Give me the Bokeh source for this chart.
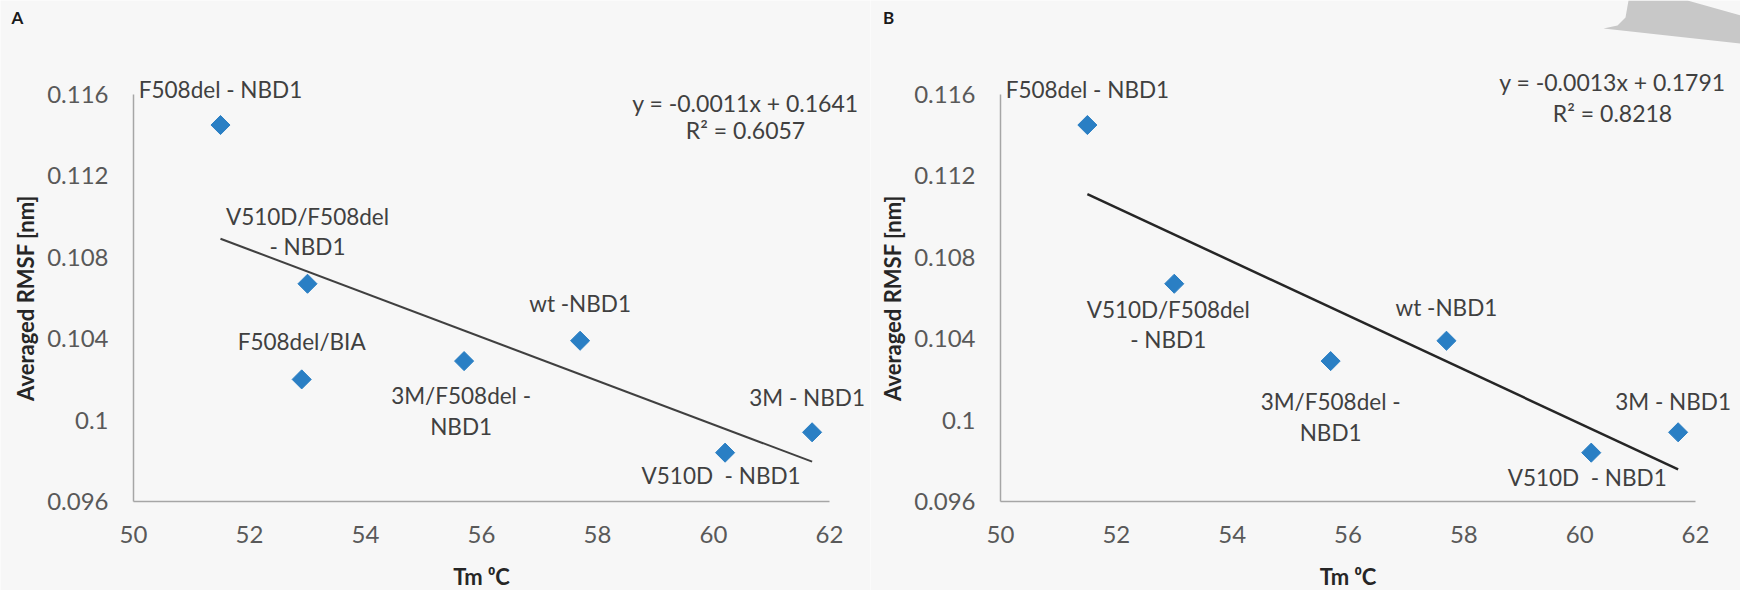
import numpy as np
from bokeh.plotting import figure
from bokeh.models import ColumnDataSource, Label, Range1d, FixedTicker, PolyAnnotation
from bokeh.layouts import row
from bokeh.embed import file_html
from bokeh.resources import INLINE
from bokeh.core.properties import value

# ---------------- data ----------------
names_a = ["F508del - NBD1", "V510D/F508del\n- NBD1", "F508del/BIA", "3M/F508del -\nNBD1",
           "wt -NBD1", "V510D\u00a0 - NBD1", "3M - NBD1"]
tm_a = [51.5, 53.0, 52.9, 55.7, 57.7, 60.2, 61.7]
rmsf_a = [0.1145, 0.1067, 0.1020, 0.1029, 0.1039, 0.0984, 0.0994]

names_b = ["F508del - NBD1", "V510D/F508del\n- NBD1", "3M/F508del -\nNBD1",
           "wt -NBD1", "V510D\u00a0 - NBD1", "3M - NBD1"]
tm_b = [51.5, 53.0, 55.7, 57.7, 60.2, 61.7]
rmsf_b = [0.1145, 0.1067, 0.1029, 0.1039, 0.0984, 0.0994]

eq_a = ["y = -0.0011x + 0.1641", "R\u00b2 = 0.6057"]
eq_b = ["y = -0.0013x + 0.1791", "R\u00b2 = 0.8218"]

x_ticks = [50, 52, 54, 56, 58, 60, 62]
y_ticks = [0.096, 0.1, 0.104, 0.108, 0.112, 0.116]
y_tick_labels = ["0.096", "0.1", "0.104", "0.108", "0.112", "0.116"]
x_min, x_max = 50, 62
y_min, y_max = 0.096, 0.116

panel_titles = ["A", "B"]
x_title = "Tm \u2070C"
y_title = "Averaged RMSF [nm]"

# ---------------- style / layout (pixels) ----------------
dx_a = [0, 0, 0, -3, 0, -4, -5]
dy_a = [-36, -52, -38, 50, -37, 23, -35]
dx_b = [0, -6, 0, 0, -4, -5]
dy_b = [-36, 41, 56, -33, 25, -31]

W, H = 870, 590
BG = "#f7f7f7"
FONT = "Lato"
TXT = "#404040"


def make_panel(letter, tm, rmsf, names, dx, dy, eq, px_left, px_right, px_top, px_bottom,
               eq_x, eq_y, letter_x, line_color, line_w):
    # the frame covers the whole canvas; map the data box to the given pixel box
    sx = (px_right - px_left) / (x_max - x_min)
    sy = (px_bottom - px_top) / (y_max - y_min)
    xr = Range1d(x_min - px_left / sx, x_max + (W - px_right) / sx)
    yr = Range1d(y_min - (H - px_bottom) / sy, y_max + px_top / sy)
    p = figure(width=W, height=H, output_backend="svg", toolbar_location=None,
               x_range=xr, y_range=yr, min_border=0,
               background_fill_color=BG, border_fill_color=BG, outline_line_color=None)
    p.grid.visible = False
    for ax in (p.xaxis[0], p.yaxis[0]):
        ax.axis_line_color = "#a6a6a6"
        ax.axis_line_width = 1.5
        ax.major_tick_out = 0
        ax.major_tick_in = 0
        ax.minor_tick_out = 0
        ax.minor_tick_in = 0
        ax.major_label_text_font = FONT
        ax.major_label_text_font_size = "24px"
        ax.major_label_text_color = "#595959"
        ax.axis_label_text_font = FONT
        ax.axis_label_text_font_style = "bold"
        ax.axis_label_text_font_size = "22px"
        ax.axis_label_text_color = "#262626"
    p.xaxis.fixed_location = y_min
    p.yaxis.fixed_location = x_min
    p.xaxis.bounds = (x_min, x_max)
    p.yaxis.bounds = (y_min, y_max)
    p.xaxis.ticker = FixedTicker(ticks=x_ticks)
    p.yaxis.ticker = FixedTicker(ticks=y_ticks)
    p.yaxis.major_label_overrides = {t: s for t, s in zip(y_ticks, y_tick_labels)}
    p.xaxis.axis_label = x_title
    p.yaxis.axis_label = y_title
    p.yaxis.major_label_standoff = 25
    p.yaxis.axis_label_standoff = 5
    p.xaxis.major_label_standoff = 24
    p.xaxis.axis_label_standoff = 17

    # trendline (least squares from the data)
    k, b = np.polyfit(tm, rmsf, 1)
    xs = [min(tm), max(tm)]
    p.line(xs, [k * x + b for x in xs], line_color=line_color, line_width=line_w)

    src = ColumnDataSource(dict(x=tm, y=rmsf, name=names, dx=dx, dy=dy))
    p.scatter("x", "y", source=src, marker="square", angle=np.pi / 4, size=13.5,
              fill_color="#2a7fc4", line_color="#2a7fc4")
    p.text("x", "y", text="name", source=src, x_offset="dx", y_offset="dy",
           text_align="center", text_baseline="middle", text_font=value(FONT),
           text_font_size="22.5px", text_color=TXT, text_line_height=1.12)

    for s, yy in zip(eq, eq_y):
        p.add_layout(Label(x=eq_x, y=H - yy, x_units="screen", y_units="screen", text=s,
                           text_align="center", text_baseline="middle", text_font=FONT,
                           text_font_size="23px", text_color=TXT))
    p.add_layout(Label(x=letter_x, y=H - 17, x_units="screen", y_units="screen", text=letter,
                       text_align="center", text_baseline="middle", text_font=FONT,
                       text_font_style="bold", text_font_size="17px", text_color="#1a1a1a"))
    return p


pa = make_panel(panel_titles[0], tm_a, rmsf_a, names_a, dx_a, dy_a, eq_a,
                133, 829, 94, 501, 745, [102, 129], 17, "#404040", 2)
pb = make_panel(panel_titles[1], tm_b, rmsf_b, names_b, dx_b, dy_b, eq_b,
                130, 825, 94, 501, 742, [81, 112], 18, "#262626", 2.5)

# grey page-curl shape at the top right corner of panel B (screen px, y from top)
curl_x = [733, 747, 755, 758, 817, 870, 870]
curl_y = [28, 25, 17, 0, 0, 15, 43]
pb.add_layout(PolyAnnotation(xs=curl_x, ys=[H - v for v in curl_y],
                             xs_units="screen", ys_units="screen",
                             fill_color="#c8c8c8", fill_alpha=1, line_color=None))

layout = row(pa, pb, spacing=0)
open("out.html", "w").write(file_html(layout, INLINE))
